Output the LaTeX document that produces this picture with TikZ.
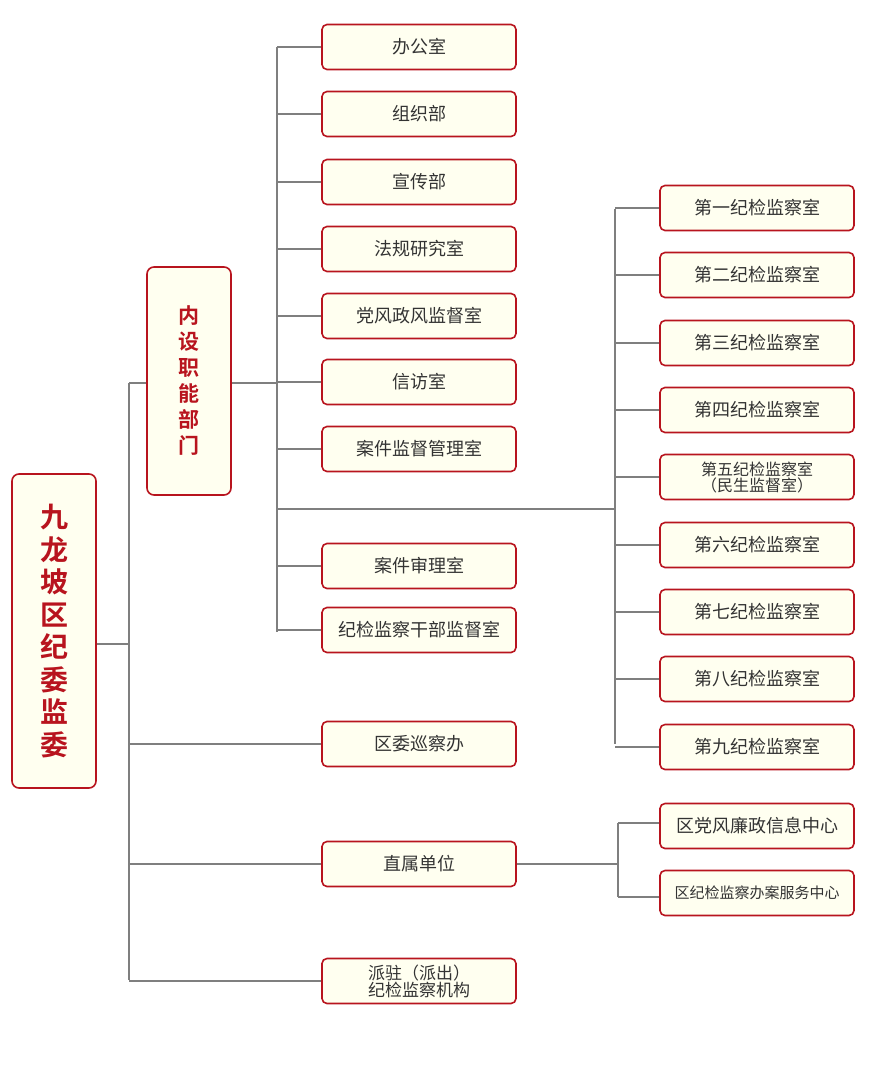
\documentclass[tikz,border=0pt]{standalone}
\usepackage{fontspec}
\newfontfamily\cjk{Noto Sans CJK SC}
\newfontfamily\cjkbold{Noto Sans CJK SC Bold}
\definecolor{boxred}{HTML}{B8141E}
\definecolor{boxfill}{HTML}{FFFFF0}
\definecolor{linegray}{HTML}{7F7F7F}
\begin{document}
\begin{tikzpicture}[
        x=1pt, y=-1pt,
        unit/.style={draw=boxred, fill=boxfill, line width=1.6pt, rounded corners=5pt, align=center,
            minimum width=194pt, minimum height=45pt, text=black!80, font=\cjk\fontsize{18}{18}\selectfont},
        office/.style={unit},
        small/.style={unit, font=\cjk\fontsize{17}{17}\selectfont},
        tall/.style={draw=boxred, fill=boxfill, line width=1.6pt, rounded corners=7pt, align=center,
            text=boxred, minimum width=84pt},
        link/.style={draw=linegray, line width=1.6pt}
    ]
    \useasboundingbox (0,0) rectangle (876,1074);
    % left column
    \node[tall, minimum height=314pt, font=\cjkbold\fontsize{28}{32.5}\selectfont] (root) at (54,631) {九\\龙\\坡\\区\\纪\\委\\监\\委};
    \node[tall, minimum height=228pt, font=\cjkbold\fontsize{21}{26}\selectfont] (dept) at (189,381) {内\\设\\职\\能\\部\\门};
    % middle column
    \foreach \name/\y/\txt in {a/47/办公室, b/114/组织部, c/182/宣传部, d/249/法规研究室,
            e/316/党风政风监督室, f/382/信访室, g/449/案件监督管理室,
            h/566/案件审理室, i/630/纪检监察干部监督室} {
        \node[office] (\name) at (419,\y) {\txt};
    }
    \node[office] (tour) at (419,744) {区委巡察办};
    \node[office] (direct) at (419,864) {直属单位};
    \node[office, font=\cjk\fontsize{17}{17}\selectfont] (station) at (419,981) {派驻（派出）\\纪检监察机构};
    % right column
    \foreach \name/\y/\txt in {r1/208/第一, r2/275/第二, r3/343/第三, r4/410/第四,
            r6/545/第六, r7/612/第七, r8/679/第八, r9/747/第九} {
        \node[office] (\name) at (757,\y) {\txt 纪检监察室};
    }
    \node[small, font=\cjk\fontsize{16}{16}\selectfont] (r5) at (757,477) {第五纪检监察室\\（民生监督室）};
    \node[office] (info) at (757,826) {区党风廉政信息中心};
    \node[small, font=\cjk\fontsize{15}{15}\selectfont] (serve) at (757,893) {区纪检监察办案服务中心};
    % connectors
    \coordinate (sp) at (129,644);
    \draw[link] (root.east |- sp) -- (sp);
    \draw[link] (129,383) -- (129,980);
    \draw[link] (129,383) -- (dept.west |- 0,383);
    \foreach \n in {tour, direct, station} \draw[link] (129,0 |- \n) -- (\n.west);
    \draw[link] (dept.east |- 0,383) -- (277,383);
    \draw[link] (277,47) -- (277,632);
    \foreach \n in {a,b,c,d,e,f,g,h,i} \draw[link] (277,0 |- \n) -- (\n.west);
    \draw[link] (277,509) -- (615,509);
    \draw[link] (615,209) -- (615,744);
    \foreach \n in {r1,r2,r3,r4,r5,r6,r7,r8,r9} \draw[link] (615,0 |- \n) -- (\n.west);
    \draw[link] (direct.east) -- (618,864);
    \draw[link] (618,823) -- (618,897);
    \draw[link] (618,823) -- (info.west |- 0,823);
    \draw[link] (618,897) -- (serve.west |- 0,897);
\end{tikzpicture}
\end{document}
